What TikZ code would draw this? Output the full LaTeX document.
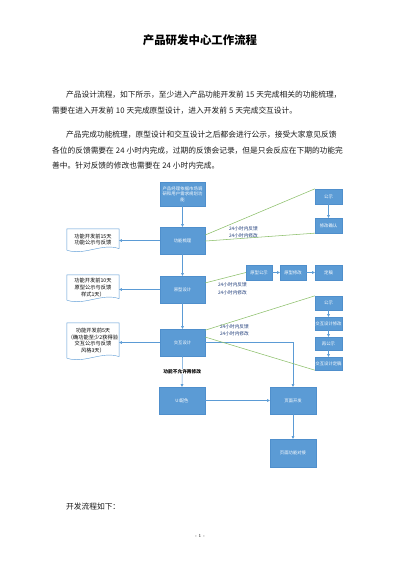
\documentclass[tikz,border=0pt]{standalone}
\usepackage{fontspec}
\usetikzlibrary{arrows.meta,calc}
\newfontfamily\cjk{Noto Sans CJK SC}
\XeTeXlinebreaklocale "zh"
\XeTeXlinebreakskip=0pt plus 1pt
\newdimen\px \px=1.4882pt
\newcommand\nsp{\kern3pt\relax}
\definecolor{boxblue}{HTML}{5B9BD5}
\definecolor{boxedge}{HTML}{4F8FCC}
\definecolor{arrblue}{HTML}{5B9BD5}
\definecolor{gline}{HTML}{8CC06A}
\definecolor{navy}{HTML}{1F3D7A}
\definecolor{bodytext}{HTML}{1A1A1A}
\tikzset{
  bluebox/.style={draw=boxedge, fill=boxblue, text=white, line width=0.5pt,
    font=\cjk\fontsize{6.5}{8}\selectfont, inner sep=0pt, align=center},
  docbox/.style={draw=none, inner sep=0pt, align=center, text=black,
    font=\cjk\fontsize{7.8}{10}\selectfont, minimum width=52\px},
  docline/.style={draw=arrblue, fill=white, line width=0.6pt},
  arr/.style={draw=arrblue, line width=0.8pt, -{Triangle[length=4pt,width=4pt]}},
  greenline/.style={draw=gline, line width=0.8pt},
  lbl/.style={text=navy, font=\cjk\fontsize{7}{8}\selectfont, inner sep=0pt},
  bodyline/.style={anchor=west, inner sep=0pt, text=bodytext, font=\cjk\fontsize{11.5}{13}\selectfont}
}
\begin{document}
\begin{tikzpicture}[x=1.4882pt,y=-1.4882pt]
\useasboundingbox[fill=white] (0,0) rectangle (400,566);

% title and text
\node[inner sep=0pt, font=\cjk\bfseries\fontsize{17}{20}\selectfont] (title) at (200,40) {产品研发中心工作流程};
\node[bodyline] (p1a) at (66,95) {\makebox[284\px][s]{产品设计流程，如下所示，至少进入产品功能开发前\nsp{}15\nsp{}天完成相关的功能梳理，}};
\node[bodyline] (p1b) at (52,111) {需要在进入开发前\nsp{}10\nsp{}天完成原型设计，进入开发前\nsp{}5\nsp{}天完成交互设计。};
\node[bodyline] (p2a) at (66,135) {\makebox[284\px][s]{产品完成功能梳理，原型设计和交互设计之后都会进行公示，接受大家意见反馈}};
\node[bodyline] (p2b) at (52,150.5) {\makebox[298\px][s]{各位的反馈需要在\nsp{}24\nsp{}小时内完成，过期的反馈会记录，但是只会反应在下期的功能完}};
\node[bodyline] (p2c) at (52,166) {善中。针对反馈的修改也需要在\nsp{}24\nsp{}小时内完成。};
\node[bodyline] (p3) at (66,507) {开发流程如下：};
\node[inner sep=0pt, font=\fontsize{7}{8}\selectfont] (page) at (200,536) {- 1 -};

% main column
\node[bluebox, minimum width=45\px, minimum height=24\px, text width=42\px] (top) at (182.5,194) {产品经理依据市场调\\研和用户需求规划功\\能};
\node[bluebox, minimum width=45\px, minimum height=27\px] (fl) at (182.5,240.5) {功能梳理};
\node[bluebox, minimum width=45\px, minimum height=27\px] (yx) at (182.5,289.5) {原型设计};
\node[bluebox, minimum width=45\px, minimum height=27\px] (jh) at (182.5,342.5) {交互设计};
\node[bluebox, minimum width=46\px, minimum height=27\px] (ui) at (182,400.5) {UI配色};
\node[bluebox, minimum width=46\px, minimum height=27\px] (ym) at (293,400.5) {页面开发};
\node[bluebox, minimum width=46\px, minimum height=28\px] (dj) at (293,453) {页面功能对接};

% right boxes
\node[bluebox, minimum width=27\px, minimum height=15\px] (A) at (328.5,196.5) {公示};
\node[bluebox, minimum width=27\px, minimum height=15\px] (B) at (328.5,225.5) {修改确认};
\node[bluebox, minimum width=26\px, minimum height=15\px] (C) at (259,272.5) {原型公示};
\node[bluebox, minimum width=26\px, minimum height=15\px] (D) at (293,272.5) {原型修改};
\node[bluebox, minimum width=27\px, minimum height=15\px] (E) at (328.5,272.5) {定稿};
\node[bluebox, minimum width=27\px, minimum height=14\px] (F) at (328.5,303) {公示};
\node[bluebox, minimum width=27\px, minimum height=13\px] (G) at (328.5,323.5) {交互设计修改};
\node[bluebox, minimum width=27\px, minimum height=13\px] (H) at (328.5,343.5) {再公示};
\node[bluebox, minimum width=27\px, minimum height=13\px] (I) at (328.5,363.5) {交互设计定稿};

% documents
\node[docbox, minimum height=21\px] (d1) at (93,239.5) {};
\draw[docline] ($(d1.south east)+(0,-1.5)$) -- (d1.north east) -- (d1.north west) -- (d1.south west)
  .. controls +(17,6) and +(-17,-6) .. ($(d1.south east)+(0,-1.5)$);
\node[docbox] (d1t) at (d1) {功能开发前15天\\功能公示与反馈};

\node[docbox, minimum height=25\px] (d2) at (93,287.5) {};
\draw[docline] ($(d2.south east)+(0,-1.5)$) -- (d2.north east) -- (d2.north west) -- (d2.south west)
  .. controls +(17,6) and +(-17,-6) .. ($(d2.south east)+(0,-1.5)$);
\node[docbox] (d2t) at (d2) {功能开发前10天\\原型公示与反馈\\样式1天）};

\node[docbox, minimum height=35\px] (d3) at (93,340.5) {};
\draw[docline] ($(d3.south east)+(0,-1.5)$) -- (d3.north east) -- (d3.north west) -- (d3.south west)
  .. controls +(17,6) and +(-17,-6) .. ($(d3.south east)+(0,-1.5)$);
\node[docbox] (d3t) at (d3) {功能开发前5天\\（确功能至少2获得验\\交互公示与反馈\\风格3天）};

% main arrows
\draw[arr] (top.south) -- (fl.north);
\draw[arr] (fl.south) -- (yx.north);
\draw[arr] (yx.south) -- (jh.north);
\draw[arr] (jh.south) -- (ui.north) node[midway, fill=white, inner sep=1pt, text=black, font=\cjk\bfseries\fontsize{7}{8}\selectfont] (nochg) {功能不允许再修改};
\draw[arr] (ui.east) -- (ym.west);
\draw[arr] (ym.south) -- (dj.north);
\draw[arr] (jh.east) -- (jh.east -| ym.north) -- (ym.north);

% to documents
\draw[arr] (fl.west) -- (fl.west -| d1.east);
\draw[arr] (yx.west) -- (yx.west -| d2.east);
\draw[arr] (jh.west) -- (jh.west -| d3.east);

% right arrows
\draw[arr] (A.south) -- (B.north);
\draw[arr] (C.east) -- (D.west);
\draw[arr] (D.east) -- (E.west);
\draw[arr] (F.south) -- (G.north);
\draw[arr] (G.south) -- (H.north);
\draw[arr] (H.south) -- (I.north);

% green lines
\draw[greenline] ($(fl.north east)!0.3!(fl.south east)$) -- (A.north west);
\draw[greenline] ($(fl.north east)!0.52!(fl.south east)$) -- (B.south west);
\draw[greenline] ($(yx.north east)!0.26!(yx.south east)$) -- (C.west);
\draw[greenline] ($(jh.north east)!0.05!(jh.south east)$) -- (F.north west);
\draw[greenline] ($(jh.north east)!0.3!(jh.south east)$) -- (I.south west);

% labels
\node[lbl, anchor=west] (l1) at (229,228.5) {24小时内反馈};
\node[lbl, anchor=west] (l2) at (229,236) {24小时内修改};
\node[lbl, anchor=west] (l3) at (218,285) {24小时内反馈};
\node[lbl, anchor=west] (l4) at (218,292.5) {24小时内修改};
\node[lbl, anchor=west] (l5) at (220,327) {24小时内反馈};
\node[lbl, anchor=west] (l6) at (220,334) {24小时内修改};
\end{tikzpicture}
\end{document}
